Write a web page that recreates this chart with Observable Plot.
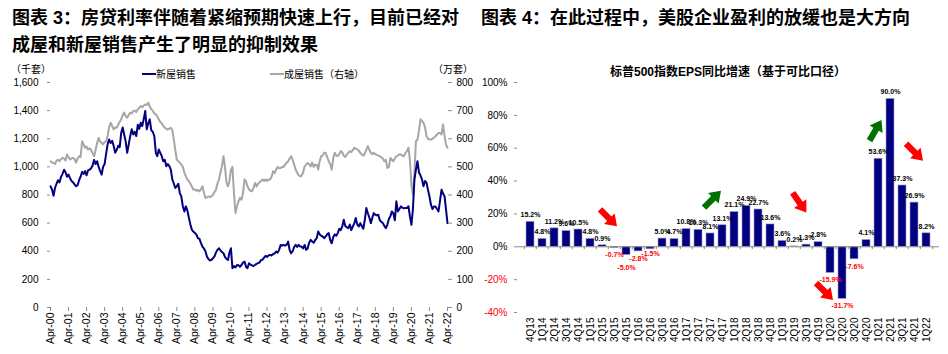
<!DOCTYPE html>
<html><head><meta charset="utf-8">
<script src="https://cdn.jsdelivr.net/npm/d3@7"></script>
<script src="https://cdn.jsdelivr.net/npm/@observablehq/plot@0.6"></script>
<style>
body{margin:0;background:#fff;}
#root{position:relative;width:948px;height:354px;overflow:hidden;background:#fff;color:#000;
 font-family:"Liberation Sans",Arial,"Noto Sans CJK SC",sans-serif;}
.title{position:absolute;font-weight:bold;font-size:18px;line-height:27px;white-space:nowrap;
 font-family:"Liberation Sans",Arial,"Noto Sans CJK SC",sans-serif;}
.small{position:absolute;font-size:10px;white-space:nowrap;line-height:12px;}
.sw{display:inline-block;width:14px;height:2px;vertical-align:middle;margin-right:0px;position:relative;top:-1px;}
.chart{position:absolute;top:55px;}
.sub{position:absolute;font-weight:bold;font-size:12px;white-space:nowrap;text-align:center;line-height:14px;}
</style></head>
<body>
<div id="root">
  <div id="left" class="chart" style="left:0px"></div>
  <div id="right" class="chart" style="left:474px"></div>
  <div class="title" style="left:12px;top:5px">图表 3：房贷利率伴随着紧缩预期快速上行，目前已经对<br>成屋和新屋销售产生了明显的抑制效果</div>
  <div class="title" style="left:481px;top:5px">图表 4：在此过程中，美股企业盈利的放缓也是大方向</div>
  <div class="small" style="left:11px;top:64px">（千套）</div>
  <div class="small" style="left:433px;top:64px">（万套）</div>
  <div class="small" style="left:142px;top:69px"><span class="sw" style="background:#000080"></span>新屋销售</div>
  <div class="small" style="left:270px;top:69px"><span class="sw" style="background:#A6A6A6"></span>成屋销售（右轴）</div>
  <div class="sub" style="left:517px;width:422px;top:65px">标普500指数EPS同比增速（基于可比口径）</div>
</div>
<script>
// ---------- Left chart data: monthly, starting Apr-2000 ----------
const startYear = 2000, startMonth = 3; // April
// US new home sales, thousands (left axis)
const newHomeSales = [
  862, 840, 795, 850, 880, 905, 890, 930, 950,
  980, 960, 930, 945, 920, 900, 890, 875, 862, 870, 905, 930,
  965, 950, 970, 940, 975, 980, 990, 1010, 1050, 1020, 1040, 1000,
  970, 945, 1000, 1020, 1090, 1160, 1195, 1170, 1185, 1150, 1100, 1120,
  1150, 1140, 1240, 1280, 1230, 1180, 1100, 1160, 1220, 1267, 1230, 1250,
  1219, 1300, 1270, 1314, 1290, 1340, 1398, 1267, 1310, 1338, 1260, 1250,
  1219, 1100, 1076, 1124, 1100, 1076, 1040, 1050, 1005, 1020, 1005, 980,
  910, 880, 850, 862, 880, 814, 790, 720, 683, 719, 690, 640,
  590, 552, 540, 530, 520, 493, 490, 460, 433, 420, 400, 362,
  345, 335, 338, 350, 362, 390, 410, 421, 405, 395, 386, 360,
  345, 338, 390, 421, 279, 295, 285, 302, 300, 290, 302, 319,
  326, 290, 279, 314, 305, 300, 295, 302, 310, 315, 320, 338,
  340, 355, 367, 360, 370, 374, 370, 380, 385, 398, 390, 410,
  445, 440, 445, 440, 445, 469, 410, 386, 400, 430, 445, 430,
  445, 433, 433, 420, 445, 410, 420, 460, 481, 470, 460, 480,
  493, 540, 520, 510, 505, 493, 505, 520, 529, 480, 457, 500,
  520, 510, 529, 560, 550, 576, 624, 580, 570, 564, 590, 550,
  576, 600, 636, 590, 576, 600, 580, 560, 624, 707, 670, 640,
  600, 640, 671, 660, 655, 660, 620, 610, 600, 580, 564, 590,
  630, 650, 683, 670, 620, 755, 683, 700, 719, 710, 705, 707,
  707, 720, 648, 588, 700, 910, 980, 1040, 960, 940, 910, 862,
  900, 886, 838, 790, 731, 700, 719, 719, 700, 683, 760, 838,
  810, 790, 700, 600
];
// US existing home sales, 10k units (right axis)
const existingHomeSales = [
  520, 516, 514, 510, 522, 525, 520, 528, 532,
  530, 522, 544, 535, 526, 530, 532, 528, 515, 530, 538, 535,
  591, 580, 568, 572, 562, 566, 560, 548, 538, 560, 585, 603,
  590, 585, 580, 588, 591, 610, 640, 657, 645, 633, 640, 639,
  650, 660, 669, 685, 693, 680, 675, 685, 693, 690, 699, 700,
  695, 705, 710, 716, 712, 718, 722, 720, 728, 715, 705, 700,
  690, 687, 680, 669, 660, 655, 645, 640, 635, 633, 636, 639,
  630, 597, 560, 526, 520, 515, 508, 500, 480, 466, 455, 449,
  440, 430, 419, 420, 415, 418, 413, 420, 431, 410, 389, 392,
  395, 393, 395, 400, 410, 419, 440, 455, 480, 502, 538, 500,
  443, 431, 450, 490, 500, 407, 336, 360, 377, 390, 383, 407,
  455, 449, 431, 420, 415, 413, 425, 443, 430, 440, 445, 450,
  455, 450, 455, 450, 455, 455, 465, 484, 478, 490, 500, 495,
  496, 500, 500, 508, 515, 520, 530, 538, 525, 508, 490, 480,
  470, 466, 468, 480, 502, 508, 514, 510, 502, 515, 500, 508,
  508, 490, 520, 538, 540, 550, 550, 535, 520, 510, 490, 530,
  550, 540, 538, 545, 556, 552, 540, 535, 544, 550, 556, 552,
  560, 568, 565, 562, 558, 550, 544, 540, 548, 560, 574, 560,
  550, 545, 550, 545, 543, 540, 538, 534, 530, 520, 525, 496,
  500, 532, 525, 520, 530, 538, 540, 545, 544, 540, 538, 550,
  556, 568, 526, 433, 401, 480, 591, 597, 630, 669, 663, 657,
  640, 609, 600, 597, 597, 600, 604, 609, 615, 620, 621, 615,
  651, 609, 580, 568
];
const leftTicks = [0, 200, 400, 600, 800, 1000, 1200, 1400, 1600];
const rightTickLabels = [0, 100, 200, 300, 400, 500, 600, 700, 800];
const tickYears = d3.range(2000, 2023);

// ---------- Right chart data ----------
const quarters = ["4Q13","1Q14","2Q14","3Q14","4Q14","1Q15","2Q15","3Q15","4Q15","1Q16","2Q16","3Q16","4Q16",
  "1Q17","2Q17","3Q17","4Q17","1Q18","2Q18","3Q18","4Q18","1Q19","2Q19","3Q19","4Q19",
  "1Q20","2Q20","3Q20","4Q20","1Q21","2Q21","3Q21","4Q21","1Q22"];
const epsGrowth = [15.2, 4.8, 11.2, 9.6, 10.5, 4.8, 0.9, -0.7, -5.0, -2.8, -1.5, 5.0, 4.7,
  10.8, 10.3, 8.1, 13.1, 21.1, 24.9, 22.7, 13.6, 3.6, 0.2, 1.3, 2.8,
  -15.9, -31.7, -7.6, 4.1, 53.6, 90.0, 37.3, 26.9, 8.2];
const pctTicksPos = [0, 20, 40, 60, 80, 100];
const pctTicksNeg = [-20, -40];
// label nudges (px) for a few crowded negative labels, by quarter
const labelNudgeQ = ["4Q15", "2Q16"];
const labelNudgePx = [6, -3];
// annotation arrows: quarter, value, direction
const arrowQuarter = ["3Q15", "3Q17", "2Q19", "1Q20", "1Q21", "4Q21"];
const arrowValue   = [17.6, 29.0, 26.9, -27.2, 70.9, 57.6];
const arrowDir     = ["down", "up", "down", "down", "up", "down"];
const arrowNudge   = [-6, 2, 5, -6, -3, 0];
const arrowAngle   = [135, 45, 145, 135, 30, 135];

// ---------- Build left chart ----------
const monthDate = i => new Date(Date.UTC(startYear, startMonth + i, 1));
const newData = newHomeSales.map((v, i) => ({date: monthDate(i), v}));
const existData = existingHomeSales.map((v, i) => ({date: monthDate(i), v}));
const aprTicks = tickYears.map(y => new Date(Date.UTC(y, 3, 1)));
const font = '"Liberation Sans", Arial, "Noto Sans CJK SC", sans-serif';

const left = Plot.plot({
  width: 474, height: 299,
  marginLeft: 50, marginRight: 27, marginTop: 27, marginBottom: 47,
  style: {fontFamily: font, fontSize: "10px", background: "transparent", overflow: "visible", color: "#000"},
  x: {type: "utc", domain: [aprTicks[0], aprTicks[aprTicks.length - 1]]},
  y: {domain: [0, 1600]},
  marks: [
    Plot.line(existData, {x: "date", y: d => d.v * 2, stroke: "#A6A6A6", strokeWidth: 2}),
    Plot.line(newData, {x: "date", y: "v", stroke: "#000080", strokeWidth: 2}),
    Plot.axisY(leftTicks, {anchor: "left", tickFormat: d3.format(","), tickSize: 3, tickPadding: 9,
      line: true, stroke: "#8c8c8c", fill: "#000", fontSize: 10, label: null}),
    Plot.axisY(leftTicks, {anchor: "right", tickFormat: (d, i) => String(rightTickLabels[i]), tickSize: 4, tickPadding: 5,
      line: true, stroke: "#8c8c8c", fill: "#000", fontSize: 10, label: null}),
    Plot.axisX(aprTicks, {anchor: "bottom", tickFormat: d3.utcFormat("%b-%y"), tickRotate: -90, tickSize: 4, tickPadding: 1,
      line: true, stroke: "#8c8c8c", fill: "#000", fontSize: 10.5, label: null})
  ]
});
document.getElementById("left").appendChild(left);

// ---------- Build right chart ----------
const bars = quarters.map((q, i) => ({q, v: epsGrowth[i]}));
const fmt = d => d.v.toFixed(1) + "%";
const W = 474, mL = 43, mR = 9;
const step = (W - mL - mR) / quarters.length;
const arrows = arrowQuarter.map((q, i) => ({q, v: arrowValue[i], dir: arrowDir[i], nudge: arrowNudge[i], rot: arrowAngle[i]}));
const blockArrow = {
  draw(context, l, r) {
    const w = r * 0.42, hw = r, hl = l * 0.45;
    context.moveTo(-w, 0);
    context.lineTo(-w, -(l - hl));
    context.lineTo(-hw, -(l - hl));
    context.lineTo(0, -l);
    context.lineTo(hw, -(l - hl));
    context.lineTo(w, -(l - hl));
    context.lineTo(w, 0);
    context.closePath();
  }
};
const negBars = bars.filter(d => d.v < 0);
const negMarks = negBars.map(d => {
  const k = labelNudgeQ.indexOf(d.q);
  return Plot.text([d], {x: "q", y: "v", text: fmt, dy: 7 + (k >= 0 ? labelNudgePx[k] : 0),
    fontSize: 7, fontWeight: "bold", fill: "#ff0000"});
});

const right = Plot.plot({
  width: W, height: 299,
  marginLeft: mL, marginRight: mR, marginTop: 27, marginBottom: 42,
  style: {fontFamily: font, fontSize: "10px", background: "transparent", overflow: "visible", color: "#000"},
  x: {domain: quarters, paddingInner: 0.34, paddingOuter: 0.17},
  y: {domain: [-40, 100]},
  marks: [
    Plot.barY(bars, {x: "q", y: "v", fill: "#000080", stroke: "#9a9ac8", strokeWidth: 0.6}),
    Plot.ruleY([0], {stroke: "#8c8c8c"}),
    Plot.ruleX(quarters, {x: d => d, y1: 0, y2: -1.8, dx: -step / 2, stroke: "#8c8c8c"}),
    Plot.ruleX([quarters[quarters.length - 1]], {x: d => d, y1: 0, y2: -1.8, dx: step / 2, stroke: "#8c8c8c"}),
    Plot.axisY(pctTicksPos, {anchor: "left", tickFormat: d => d + "%", tickSize: 3, tickPadding: 7,
      line: true, stroke: "#8c8c8c", fill: "#000", fontSize: 10, label: null}),
    Plot.axisY(pctTicksNeg, {anchor: "left", tickFormat: d => d + "%", tickSize: 3, tickPadding: 7,
      stroke: "#8c8c8c", fill: "#ff0000", fontSize: 10, label: null}),
    Plot.axisY([-40, 100], {anchor: "left", tickFormat: () => "", tickSize: 0, line: true, stroke: "#8c8c8c", label: null}),
    Plot.axisX(quarters, {anchor: "bottom", tickRotate: -90, tickSize: 0, tickPadding: 5, fill: "#000", fontSize: 10, label: null}),
    Plot.text(bars.filter(d => d.v >= 0), {x: "q", y: "v", text: fmt, dy: -7, fontSize: 7, fontWeight: "bold", fill: "#000"}),
    ...negMarks,
    ...arrows.map(a => Plot.vector([a], {
      x: "q", y: "v", rotate: a.rot, length: 24, r: 7.5, anchor: "middle", dx: a.nudge,
      shape: blockArrow, fill: a.dir === "down" ? "#ff0000" : "#007000", stroke: "none"
    }))
  ]
});
document.getElementById("right").appendChild(right);
</script>
</body></html>
